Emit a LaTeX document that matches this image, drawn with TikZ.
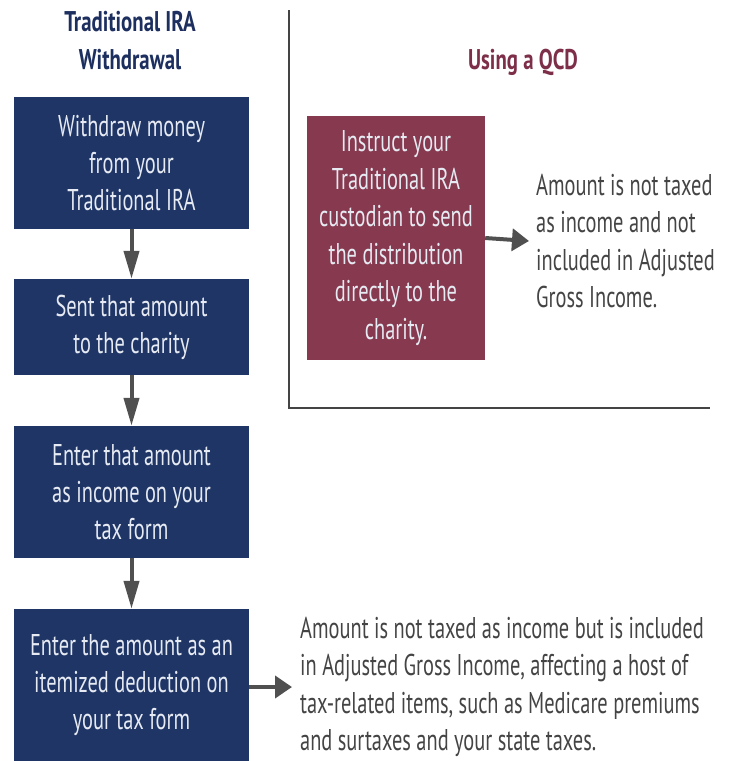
\documentclass[tikz,border=0pt]{standalone}
\usepackage{fontspec}
\setmainfont{PT Sans}[FakeStretch=0.68]
\newfontfamily\titlefont{PT Sans}[FakeStretch=0.73]
\usetikzlibrary{arrows.meta}
\definecolor{navy}{HTML}{1F3566}
\definecolor{navytxt}{HTML}{1D2F5F}
\definecolor{maroon}{HTML}{873A4F}
\definecolor{maroontxt}{HTML}{7D2E48}
\definecolor{arrowgray}{HTML}{505050}
\definecolor{bodygray}{HTML}{444444}
\definecolor{boxtxt}{HTML}{E6EAF2}
\tikzset{
  navybox/.style={rectangle, fill=navy, text=boxtxt, minimum width=235pt, align=center, inner sep=0pt, font=\fontsize{30}{37}\selectfont},
  qcdbox/.style={rectangle, fill=maroon, text=boxtxt, minimum width=178pt, minimum height=244pt, align=center, inner sep=0pt, font=\fontsize{30}{37.5}\selectfont},
  bodytext/.style={text=bodygray, align=left, inner sep=0pt, font=\fontsize{30}{37.2}\selectfont},
  titletext/.style={align=center, inner sep=0pt, font=\titlefont\fontsize{28.5}{38}\selectfont\bfseries},
  varrow/.style={draw=arrowgray, line width=4pt, -{Triangle[length=28pt,width=15pt]}, fill=arrowgray},
  harrow/.style={draw=arrowgray, line width=4pt, -{Triangle[length=17pt,width=22pt]}, fill=arrowgray},
  divider/.style={draw=bodygray, line width=1.5pt}
}
\begin{document}
\begin{tikzpicture}[x=1pt,y=-1pt]
\fill[white] (0,0) rectangle (733,761);
\useasboundingbox (0,0) rectangle (733,761);

\node[titletext, text=navytxt] (t1) at (130,41) {Traditional IRA\\Withdrawal};
\node[titletext, text=maroontxt] (t2) at (523,62) {Using a QCD};

\node[navybox, minimum height=132pt] (b1) at (131.5,163) {Withdraw money\\from your\\Traditional IRA};
\node[navybox, minimum height=96pt] (b2) at (131.5,327) {Sent that amount\\to the charity};
\node[navybox, minimum height=132pt] (b3) at (131.5,492) {Enter that amount\\as income on your\\tax form};
\node[navybox, minimum height=152pt] (b4) at (131.5,685) {Enter the amount as an\\itemized deduction on\\your tax form};

\node[qcdbox] (q) at (396,238) {Instruct your\\Traditional IRA\\custodian to send\\the distribution\\directly to the\\charity.};

\node[bodytext, anchor=west] (r1) at (536,241) {Amount is not taxed\\as income and not\\included in Adjusted\\Gross Income.};
\node[bodytext, anchor=west] (r2) at (300,687) {Amount is not taxed as income but is included\\in Adjusted Gross Income, affecting a host of\\tax-related items, such as Medicare premiums\\and surtaxes and your state taxes.};

\coordinate (d1) at (289,10);
\coordinate (d2) at (289,408);
\coordinate (d3) at (710,408);
\draw[divider] (d1) -- (d2) -- (d3);

\draw[varrow] (b1.south) -- (b2.north);
\draw[varrow] (b2.south) -- (b3.north);
\draw[varrow] (b3.south) -- (b4.north);
\draw[harrow] (q.east) -- ([xshift=-7pt]r1.west);
\draw[harrow] (b4.east |- r2.west) -- ([xshift=-8pt]r2.west);
\end{tikzpicture}
\end{document}
